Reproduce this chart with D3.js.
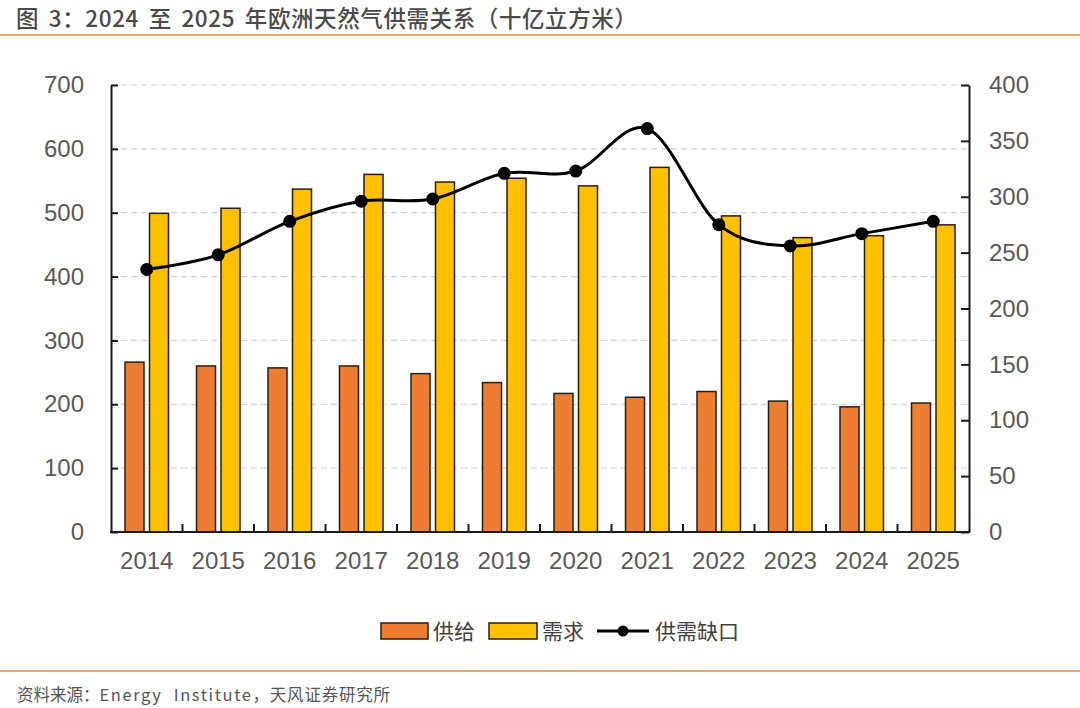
<!DOCTYPE html>
<html>
<head>
<meta charset="utf-8">
<script src="https://cdn.jsdelivr.net/npm/d3@7"></script>
<style>
  body { margin: 0; background: #fff; }
  svg { display: block; }
</style>
</head>
<body>
<svg id="chart"></svg>
<script>
// 数据：十亿立方米
const years = ["2014", "2015", "2016", "2017", "2018", "2019", "2020", "2021", "2022", "2023", "2024", "2025"];
const supply = [266, 260, 257, 260, 248, 234, 217, 211, 220, 205, 196, 202];
const demand = [499, 507, 537, 560, 548, 554, 542, 571, 495, 461, 464, 481];
const gap = [235, 248, 278, 296, 298, 321, 323, 361, 275, 256, 267, 278];
const leftTicks = [0, 100, 200, 300, 400, 500, 600, 700];
const rightTicks = [0, 50, 100, 150, 200, 250, 300, 350, 400];

const wSvg = 1080;
const hSvg = 708;
const plot = { left: 111, right: 969, top: 85, bottom: 532 };

const orange = "#ED7D31";
const yellow = "#FFC000";
const textGray = "#595959";
const ruleColor = "#EDA46C";

const svg = d3.select("#chart")
  .attr("width", wSvg)
  .attr("height", hSvg);

svg.append("rect")
  .attr("width", wSvg)
  .attr("height", hSvg)
  .attr("fill", "#fff");

// 标题 + 分隔线
svg.append("text")
  .attr("x", 16)
  .attr("y", 27)
  .attr("font-family", "'Noto Sans CJK SC', sans-serif")
  .attr("font-size", 22.5)
  .attr("font-weight", 500)
  .attr("letter-spacing", 0.6)
  .attr("word-spacing", 4)
  .attr("fill", "#4a4a4a")
  .attr("xml:space", "preserve")
  .text("图 3：2024 至 2025 年欧洲天然气供需关系（十亿立方米）");

svg.append("line")
  .attr("x1", 0).attr("x2", wSvg)
  .attr("y1", 35).attr("y2", 35)
  .attr("stroke", ruleColor)
  .attr("stroke-width", 2);

svg.append("line")
  .attr("x1", 0).attr("x2", wSvg)
  .attr("y1", 671).attr("y2", 671)
  .attr("stroke", ruleColor)
  .attr("stroke-width", 2);

const source = svg.append("text")
  .attr("x", 17)
  .attr("y", 701)
  .attr("font-family", "'Noto Sans CJK SC', sans-serif")
  .attr("font-size", 16.5)
  .attr("fill", "#555");

source.append("tspan").text("资料来源：");
source.append("tspan")
  .attr("letter-spacing", 1.6)
  .attr("word-spacing", 6)
  .text("Energy Institute");
source.append("tspan").attr("letter-spacing", 0.8).text("，天风证券研究所");

// 比例尺
const x = d3.scaleBand()
  .domain(years)
  .range([plot.left, plot.right])
  .padding(0);

const yLeft = d3.scaleLinear()
  .domain([0, 700])
  .range([plot.bottom, plot.top]);

const yRight = d3.scaleLinear()
  .domain([0, 400])
  .range([plot.bottom, plot.top]);

const center = d => x(d) + x.bandwidth() / 2;

// 网格线
svg.append("g")
  .selectAll("line")
  .data(leftTicks.filter(d => d > 0))
  .enter()
  .append("line")
  .attr("x1", plot.left)
  .attr("x2", plot.right)
  .attr("y1", d => yLeft(d))
  .attr("y2", d => yLeft(d))
  .attr("stroke", "#d4d4d4")
  .attr("stroke-width", 1.2)
  .attr("stroke-dasharray", "6,4");

// 柱子
const barW = 19;
const barGap = 5.5;

svg.append("g")
  .selectAll("rect")
  .data(years)
  .enter()
  .append("rect")
  .attr("x", (d, i) => center(d) - barGap / 2 - barW)
  .attr("y", (d, i) => yLeft(supply[i]))
  .attr("width", barW)
  .attr("height", (d, i) => yLeft(0) - yLeft(supply[i]))
  .attr("fill", orange)
  .attr("stroke", "#2b1d12")
  .attr("stroke-width", 1.5);

svg.append("g")
  .selectAll("rect")
  .data(years)
  .enter()
  .append("rect")
  .attr("x", (d, i) => center(d) + barGap / 2)
  .attr("y", (d, i) => yLeft(demand[i]))
  .attr("width", barW)
  .attr("height", (d, i) => yLeft(0) - yLeft(demand[i]))
  .attr("fill", yellow)
  .attr("stroke", "#2b1d12")
  .attr("stroke-width", 1.5);

// 坐标轴
const leftAxis = svg.append("g")
  .attr("transform", `translate(${plot.left}, 0)`)
  .call(d3.axisLeft(yLeft).tickValues(leftTicks).tickSizeInner(-7).tickSizeOuter(0).tickPadding(27));

const rightAxis = svg.append("g")
  .attr("transform", `translate(${plot.right}, 0)`)
  .call(d3.axisRight(yRight).tickValues(rightTicks).tickSizeInner(-8).tickSizeOuter(0).tickPadding(20));

[leftAxis, rightAxis].forEach(g => {
  g.selectAll("path, line").attr("stroke", "#1a1a1a").attr("stroke-width", 2);
  g.selectAll("text")
    .attr("font-family", "'Liberation Sans', Arial, sans-serif")
    .attr("font-size", 24)
    .attr("fill", textGray);
});

// 底部轴：刻度在类别之间
const bottom = svg.append("g");

bottom.append("line")
  .attr("x1", plot.left - 1)
  .attr("x2", plot.right + 1)
  .attr("y1", plot.bottom)
  .attr("y2", plot.bottom)
  .attr("stroke", "#1a1a1a")
  .attr("stroke-width", 2);

bottom.selectAll(".tick")
  .data(years.slice(1))
  .enter()
  .append("line")
  .attr("x1", d => x(d))
  .attr("x2", d => x(d))
  .attr("y1", plot.bottom)
  .attr("y2", plot.bottom - 8)
  .attr("stroke", "#1a1a1a")
  .attr("stroke-width", 2);

bottom.selectAll("text")
  .data(years)
  .enter()
  .append("text")
  .attr("x", center)
  .attr("y", 569)
  .attr("text-anchor", "middle")
  .attr("font-family", "'Liberation Sans', Arial, sans-serif")
  .attr("font-size", 24)
  .attr("fill", textGray)
  .text(d => d);

// 供需缺口折线（右轴）
const line = d3.line()
  .x((d, i) => center(years[i]))
  .y(d => yRight(d))
  .curve(d3.curveCatmullRom.alpha(0));

svg.append("path")
  .datum(gap)
  .attr("d", line)
  .attr("fill", "none")
  .attr("stroke", "#000")
  .attr("stroke-width", 3);

svg.append("g")
  .selectAll("circle")
  .data(gap)
  .enter()
  .append("circle")
  .attr("cx", (d, i) => center(years[i]))
  .attr("cy", d => yRight(d))
  .attr("r", 6.5)
  .attr("fill", "#000");

// 图例
const legend = svg.append("g")
  .attr("font-family", "'Noto Sans CJK SC', sans-serif")
  .attr("font-size", 21)
  .attr("fill", "#404040");

legend.append("rect")
  .attr("x", 381).attr("y", 623)
  .attr("width", 47).attr("height", 16)
  .attr("fill", orange)
  .attr("stroke", "#2b1d12")
  .attr("stroke-width", 1.5);

legend.append("text").attr("x", 433).attr("y", 639).text("供给");

legend.append("rect")
  .attr("x", 489).attr("y", 623)
  .attr("width", 48).attr("height", 16)
  .attr("fill", yellow)
  .attr("stroke", "#2b1d12")
  .attr("stroke-width", 1.5);

legend.append("text").attr("x", 542).attr("y", 639).text("需求");

legend.append("line")
  .attr("x1", 597).attr("x2", 649)
  .attr("y1", 631).attr("y2", 631)
  .attr("stroke", "#000")
  .attr("stroke-width", 3);

legend.append("circle")
  .attr("cx", 623).attr("cy", 631)
  .attr("r", 5.5)
  .attr("fill", "#000");

legend.append("text").attr("x", 655).attr("y", 639).text("供需缺口");
</script>
</body>
</html>
